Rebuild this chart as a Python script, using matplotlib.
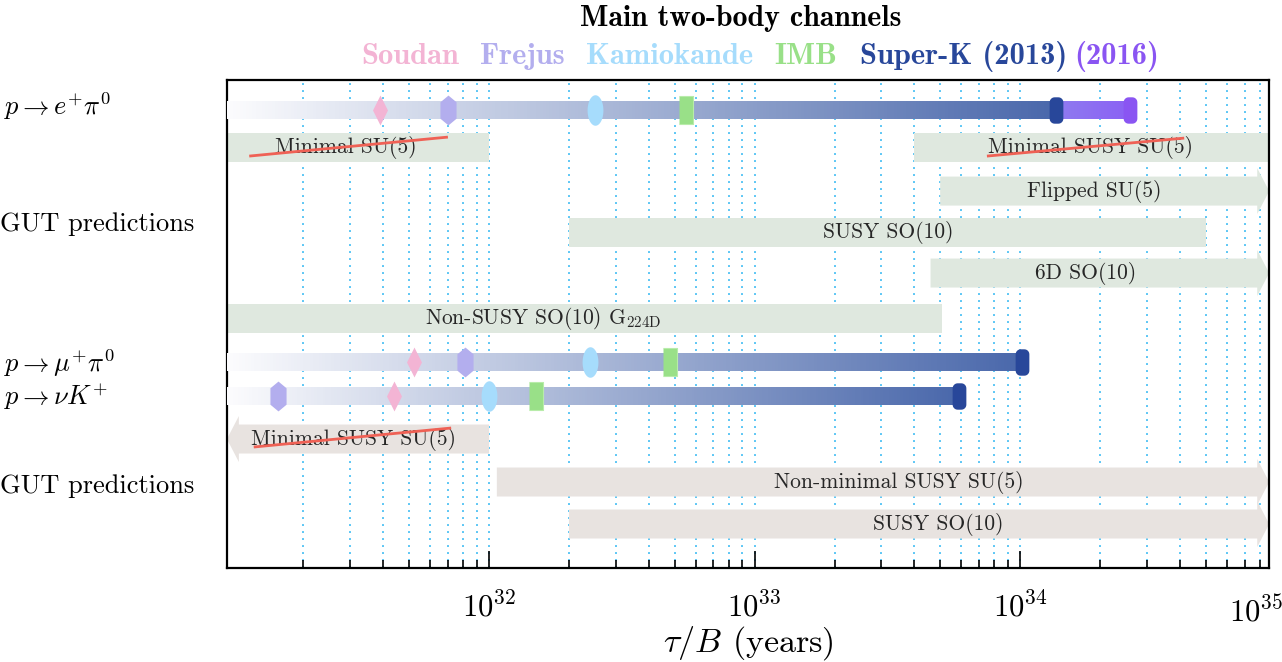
import numpy as np
import matplotlib
matplotlib.use('agg')
from matplotlib import pyplot as plt
from matplotlib.colors import LinearSegmentedColormap
from matplotlib.ticker import LogLocator, NullFormatter, FixedLocator

plt.rcParams['font.family'] = 'serif'
plt.rcParams['font.serif'] = ['cmr10']
plt.rcParams['mathtext.fontset'] = 'cm'
plt.rcParams['axes.formatter.use_mathtext'] = True
plt.rcParams['axes.unicode_minus'] = False

# experimental lower limits on tau/B (years), one entry per channel
channels = [r'$p \rightarrow e^{+}\pi^{0}$', r'$p \rightarrow \mu^{+}\pi^{0}$', r'$p \rightarrow \nu K^{+}$']
soudan = [3.9e31, 5.2e31, 4.4e31]
frejus = [7.0e31, 8.1e31, 1.6e31]
kamiokande = [2.5e32, 2.4e32, 1.0e32]
imb = [5.5e32, 4.8e32, 1.5e32]
superk_2013 = [1.37e34, 1.02e34, 5.9e33]
superk_2016_epi = 2.6e34

# GUT model predictions: (name, low, high); None = runs past the axis edge
gut_epi = [
    ('Minimal SU(5)', None, 1.0e32),
    ('Minimal SUSY SU(5)', 4.0e33, None),
    ('Flipped SU(5)', 5.0e33, None),
    ('SUSY SO(10)', 2.0e32, 5.0e34),
    ('6D SO(10)', 4.6e33, None),
    (r'Non-SUSY SO(10) G$_{\mathrm{224D}}$', None, 5.1e33),
]
gut_nuk = [
    ('Minimal SUSY SU(5)', None, 1.0e32),
    ('Non-minimal SUSY SU(5)', 1.07e32, None),
    ('SUSY SO(10)', 2.0e32, None),
]

legend_names = ['Soudan', 'Frejus', 'Kamiokande', 'IMB', 'Super-K (2013)', '(2016)']

# layout
X_MIN, X_MAX = 1.03e31, 8.67e34
bar_rows = [30, 282, 315.5]
epi_rows = [67, 67, 111, 152, 193, 238]
epi_kind = ['box', 'box', 'right', 'box', 'right', 'box']
epi_text_x = [2.9e31, 1.84e34, 1.9e34, 3.2e33, 1.77e34, 1.6e32]
nuk_rows = [359, 402, 444]
nuk_kind = ['left', 'right', 'right']
nuk_text_x = [3.1e31, 3.5e33, 4.9e33]
strike_lines = [((1.25e31, 7.0e31), (76, 57)),
                ((7.5e33, 4.15e34), (76, 58)),
                ((1.3e31, 7.2e31), (367, 348))]

col_soudan = '#f3b4d4'
col_frejus = '#b3aeee'
col_kamio = '#a6dcfc'
col_imb = '#99e088'
col_sk = '#28479a'
col_sk16 = '#8a55f2'
legend_colors = [col_soudan, col_frejus, col_kamio, col_imb, col_sk, col_sk16]
legend_x = [410, 522, 670, 806, 964, 1117]

box_top = '#dfe8df'
box_bottom = '#e8e3e0'
grid_col = '#5cc6f5'
text_col = '#262626'


def rounded_rect(w, h, r, n=8):
    pts = []
    corners = [(w - r, h - r, 0), (-w + r, h - r, 90), (-w + r, -h + r, 180), (w - r, -h + r, 270)]
    for cx, cy, a0 in corners:
        for a in np.radians(np.linspace(a0, a0 + 90, n)):
            pts.append((cx + r * np.cos(a), cy + r * np.sin(a)))
    return pts


t = np.linspace(0, 2 * np.pi, 40, endpoint=False)
m_diamond = [(0, 1), (0.5, 0), (0, -1), (-0.5, 0)]
m_hexagon = [(0, 1), (0.54, 0.55), (0.54, -0.55), (0, -1), (-0.54, -0.55), (-0.54, 0.55)]
m_ellipse = list(zip(0.52 * np.cos(t), np.sin(t)))
m_rect = [(-0.48, -1), (0.48, -1), (0.48, 1), (-0.48, 1)]
m_cap = rounded_rect(0.52, 1.0, 0.38)


def gradient_bar(ax, x0, x1, y, c0, c1, h=18, n=260):
    edges = np.logspace(np.log10(x0), np.log10(x1), n + 1)
    cmap = LinearSegmentedColormap.from_list('bar', [c0, c1])
    cols = cmap(np.linspace(0, 1, n))
    ax.broken_barh(list(zip(edges[:-1], np.diff(edges))), (y - h / 2, h),
                   facecolors=cols, edgecolor='none', antialiased=False, zorder=3)


def model_shape(ax, lo, hi, y, kind, color, h=29, head_h=46, head_len=0.045):
    lo = X_MIN if lo is None else lo
    hi = X_MAX if hi is None else hi
    if kind == 'box':
        xs = [lo, hi, hi, lo]
        ys = [y - h / 2, y - h / 2, y + h / 2, y + h / 2]
    elif kind == 'right':
        xb = hi / 10 ** head_len
        xs = [lo, xb, xb, hi, xb, xb, lo]
        ys = [y - h / 2, y - h / 2, y - head_h / 2, y, y + head_h / 2, y + h / 2, y + h / 2]
    else:
        xb = lo * 10 ** head_len
        xs = [hi, xb, xb, lo, xb, xb, hi]
        ys = [y - h / 2, y - h / 2, y - head_h / 2, y, y + head_h / 2, y + h / 2, y + h / 2]
    ax.fill(xs, ys, color=color, lw=0, zorder=2)


fig = plt.figure(figsize=(12.82, 6.62), dpi=100)
ax = fig.add_axes([0.177, 0.142, 0.813, 0.737])
ax.set_xscale('log')
ax.set_xlim(X_MIN, X_MAX)
ax.set_ylim(488, 0)

# model prediction bands
for (name, lo, hi), y, kind, tx in zip(gut_epi, epi_rows, epi_kind, epi_text_x):
    model_shape(ax, lo, hi, y, kind, box_top)
    ax.text(tx, y, name, ha='center', va='center', fontsize=15.5, color=text_col, zorder=6)
for (name, lo, hi), y, kind, tx in zip(gut_nuk, nuk_rows, nuk_kind, nuk_text_x):
    model_shape(ax, lo, hi, y, kind, box_bottom)
    ax.text(tx, y, name, ha='center', va='center', fontsize=15.5, color=text_col, zorder=6)
for xs, ys in strike_lines:
    ax.plot(xs, ys, color='#ef6155', lw=2, zorder=7, solid_capstyle='butt')

# experimental limits
for i, y in enumerate(bar_rows):
    gradient_bar(ax, X_MIN, superk_2013[i], y, '#fbfbfd', '#4a68ab')
gradient_bar(ax, superk_2013[0], superk_2016_epi, bar_rows[0], '#8f7bef', '#8a60f4')

ax.plot(soudan, bar_rows, ls='none', marker=m_diamond, ms=21.5, color=col_soudan, mec='none', zorder=5)
ax.plot(frejus, bar_rows, ls='none', marker=m_hexagon, ms=21.5, color=col_frejus, mec='none', zorder=5)
ax.plot(kamiokande, bar_rows, ls='none', marker=m_ellipse, ms=22, color=col_kamio, mec='none', zorder=5)
ax.plot(imb, bar_rows, ls='none', marker=m_rect, ms=20, color=col_imb, mec='#b8ecaa', mew=0.8, zorder=5)
ax.plot([superk_2016_epi], [bar_rows[0]], ls='none', marker=m_cap, ms=19, color=col_sk16, mec='none', zorder=5)
ax.plot(superk_2013, bar_rows, ls='none', marker=m_cap, ms=19, color=col_sk, mec='none', zorder=6)

# axes styling
ax.xaxis.set_major_locator(FixedLocator([1e32, 1e33, 1e34]))
ax.xaxis.set_minor_locator(LogLocator(base=10, subs=np.arange(2, 10)))
ax.xaxis.set_minor_formatter(NullFormatter())
ax.set_yticks([])
ax.tick_params(axis='x', which='both', direction='in', top=False, width=1.2, labelsize=22, pad=17)
ax.tick_params(axis='x', which='major', length=12)
ax.tick_params(axis='x', which='minor', length=6)
ax.set_axisbelow(True)
ax.grid(True, which='both', axis='x', color=grid_col, lw=1.4, ls=(0, (1, 2.6)))
for s in ax.spines.values():
    s.set_linewidth(1.6)
ax.set_xlabel(r'$\tau/B$ (years)', fontsize=24.5, labelpad=1)
fig.text(1256 / 1282, 1 - 611 / 662, r'$10^{35}$', ha='center', va='center', fontsize=22)

# row labels
fig.text(0.003, 1 - 115 / 662, channels[0], fontsize=19, va='baseline')
fig.text(0.0, 1 - 231 / 662, 'GUT predictions', fontsize=19, va='baseline')
fig.text(0.003, 1 - 372 / 662, channels[1], fontsize=19, va='baseline')
fig.text(0.003, 1 - 405 / 662, channels[2], fontsize=19, va='baseline')
fig.text(0.0, 1 - 493 / 662, 'GUT predictions', fontsize=19, va='baseline')

# title and colour key
fig.text(741 / 1282, 1 - 26 / 662, 'Main two-body channels', fontsize=21.5,
         family='cmb10', ha='center', va='baseline')
for name, c, px in zip(legend_names, legend_colors, legend_x):
    fig.text(px / 1282, 1 - 64 / 662, name, fontsize=22, family='cmb10',
             color=c, ha='center', va='baseline')

fig.savefig('out.png', dpi=100)
